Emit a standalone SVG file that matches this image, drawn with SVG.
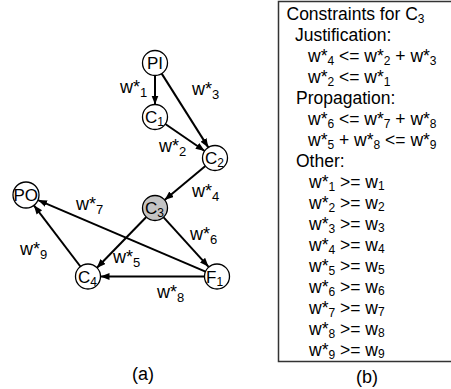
<svg xmlns="http://www.w3.org/2000/svg" width="451" height="389" viewBox="0 0 451 389">
<style>
text{font-family:"Liberation Sans",Arial,sans-serif;fill:#000}
.n{fill:#fff;stroke:#000;stroke-width:1.3}
.g{fill:#c4c4c4}
.nt{font-size:17px}
.lb{font-size:18px}
.bt{font-size:17.5px}
.s{font-size:12px}
.e{stroke:#000;stroke-width:2;fill:none;marker-end:url(#ah)}
</style>
<defs>
<marker id="ah" markerUnits="userSpaceOnUse" markerWidth="10" markerHeight="8" refX="9" refY="3.5" orient="auto"><path d="M0,0 L9,3.5 L0,7 z" fill="#000"/></marker>
</defs>
<g id="edges">
<line class="e" x1="155" y1="75.5" x2="155" y2="104.5"/>
<line class="e" x1="161.7" y1="73.6" x2="208.3" y2="147.4"/>
<line class="e" x1="165.3" y1="124" x2="204.7" y2="151"/>
<line class="e" x1="205.4" y1="166" x2="164.6" y2="200"/>
<line class="e" x1="146.3" y1="217" x2="96.7" y2="268"/>
<line class="e" x1="163.4" y1="217.2" x2="208.6" y2="266.8"/>
<line class="e" x1="204.5" y1="276.5" x2="100.5" y2="276.5"/>
<line class="e" x1="205.5" y1="271.6" x2="38" y2="200.1"/>
<line class="e" x1="80.4" y1="266.5" x2="33.9" y2="205.3"/>
</g>
<g id="labels" class="lb">
<text x="120" y="93">w*<tspan dy="4" font-size="13">1</tspan></text>
<text x="192" y="95">w*<tspan dy="4" font-size="13">3</tspan></text>
<text x="159" y="151.5">w*<tspan dy="4" font-size="13">2</tspan></text>
<text x="192" y="196.5">w*<tspan dy="4" font-size="13">4</tspan></text>
<text x="76" y="210">w*<tspan dy="4" font-size="13">7</tspan></text>
<text x="190" y="240">w*<tspan dy="4" font-size="13">6</tspan></text>
<text x="113" y="263">w*<tspan dy="4" font-size="13">5</tspan></text>
<text x="20" y="255">w*<tspan dy="4" font-size="13">9</tspan></text>
<text x="157" y="298">w*<tspan dy="4" font-size="13">8</tspan></text>
</g>
<g id="PI"><circle class="n" cx="155" cy="63" r="12.5"/><text class="nt" x="147" y="69">PI</text></g>
<g id="C1"><circle class="n" cx="155" cy="117" r="12.5"/><text class="nt" x="145" y="123">C<tspan dy="3" font-size="12">1</tspan></text></g>
<g id="C2"><circle class="n" cx="215" cy="158" r="12.5"/><text class="nt" x="205" y="164">C<tspan dy="3" font-size="12">2</tspan></text></g>
<g id="C3"><circle class="n g" cx="155" cy="208" r="12.5"/><text class="nt" x="145" y="214">C<tspan dy="3" font-size="12">3</tspan></text></g>
<g id="PO"><circle class="n" cx="26" cy="195" r="13"/><text class="nt" x="13.5" y="201">PO</text></g>
<g id="C4"><circle class="n" cx="88" cy="276.5" r="12.5"/><text class="nt" x="78" y="282.5">C<tspan dy="3" font-size="12">4</tspan></text></g>
<g id="F1"><circle class="n" cx="217" cy="276.5" r="12.5"/><text class="nt" x="206" y="282.5">F<tspan dy="3" font-size="12">1</tspan></text></g>
<text x="143" y="380" font-size="18" text-anchor="middle">(a)</text>
<g id="box">
<path d="M452,1.5 H278.5 V361.5 H452" fill="none" stroke="#333" stroke-width="1.5"/>
<g class="bt">
<text x="286.5" y="20">Constraints for C<tspan dy="3" class="s">3</tspan></text>
<text x="295" y="41">Justification:</text>
<text x="308" y="62">w*<tspan dy="3" class="s">4</tspan><tspan dy="-3"> &lt;= w*</tspan><tspan dy="3" class="s">2</tspan><tspan dy="-3"> + w*</tspan><tspan dy="3" class="s">3</tspan></text>
<text x="308" y="83">w*<tspan dy="3" class="s">2</tspan><tspan dy="-3"> &lt;= w*</tspan><tspan dy="3" class="s">1</tspan></text>
<text x="296" y="104">Propagation:</text>
<text x="308" y="125">w*<tspan dy="3" class="s">6</tspan><tspan dy="-3"> &lt;= w*</tspan><tspan dy="3" class="s">7</tspan><tspan dy="-3"> + w*</tspan><tspan dy="3" class="s">8</tspan></text>
<text x="308" y="146">w*<tspan dy="3" class="s">5</tspan><tspan dy="-3"> + w*</tspan><tspan dy="3" class="s">8</tspan><tspan dy="-3"> &lt;= w*</tspan><tspan dy="3" class="s">9</tspan></text>
<text x="296" y="167">Other:</text>
<text x="309" y="188">w*<tspan dy="3" class="s">1</tspan><tspan dy="-3"> &gt;= w</tspan><tspan dy="2" class="s">1</tspan></text>
<text x="309" y="209">w*<tspan dy="3" class="s">2</tspan><tspan dy="-3"> &gt;= w</tspan><tspan dy="2" class="s">2</tspan></text>
<text x="309" y="230">w*<tspan dy="3" class="s">3</tspan><tspan dy="-3"> &gt;= w</tspan><tspan dy="2" class="s">3</tspan></text>
<text x="309" y="251">w*<tspan dy="3" class="s">4</tspan><tspan dy="-3"> &gt;= w</tspan><tspan dy="2" class="s">4</tspan></text>
<text x="309" y="272">w*<tspan dy="3" class="s">5</tspan><tspan dy="-3"> &gt;= w</tspan><tspan dy="2" class="s">5</tspan></text>
<text x="309" y="293">w*<tspan dy="3" class="s">6</tspan><tspan dy="-3"> &gt;= w</tspan><tspan dy="2" class="s">6</tspan></text>
<text x="309" y="314">w*<tspan dy="3" class="s">7</tspan><tspan dy="-3"> &gt;= w</tspan><tspan dy="2" class="s">7</tspan></text>
<text x="309" y="335">w*<tspan dy="3" class="s">8</tspan><tspan dy="-3"> &gt;= w</tspan><tspan dy="2" class="s">8</tspan></text>
<text x="309" y="356">w*<tspan dy="3" class="s">9</tspan><tspan dy="-3"> &gt;= w</tspan><tspan dy="2" class="s">9</tspan></text>
</g>
</g>
<text x="367" y="383" font-size="18" text-anchor="middle">(b)</text>
</svg>
